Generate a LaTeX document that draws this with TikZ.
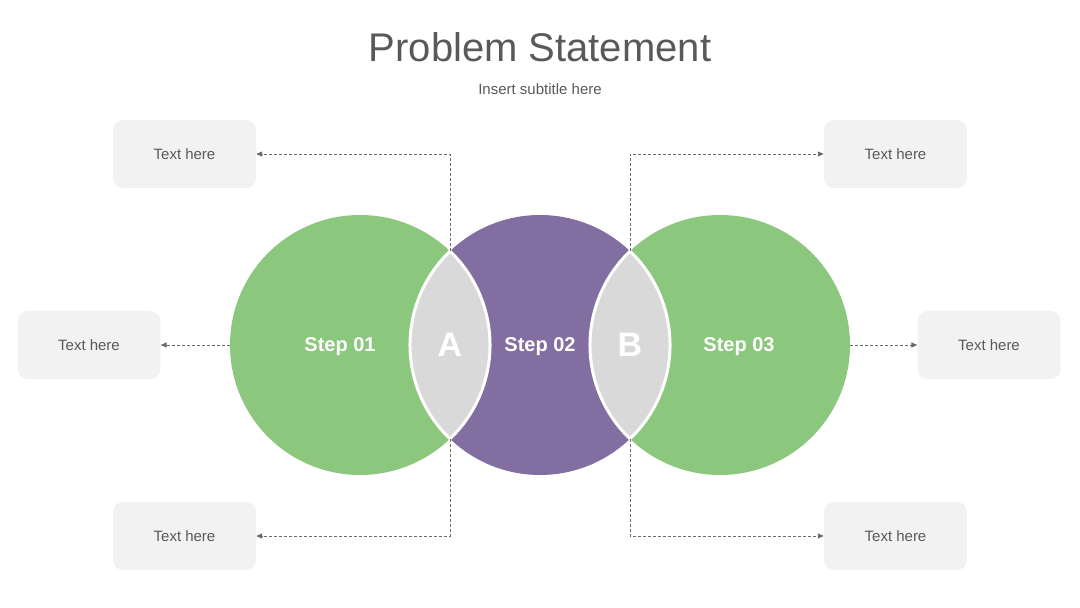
\documentclass[tikz,border=0pt]{standalone}
\usepackage{fontspec}
\setmainfont{Liberation Sans}
\usetikzlibrary{arrows.meta}
\definecolor{cgreen}{HTML}{8CC77E}
\definecolor{cpurple}{HTML}{826EA0}
\definecolor{clens}{HTML}{D9D9D9}
\definecolor{cbox}{HTML}{F2F2F2}
\definecolor{ctext}{HTML}{595959}
\definecolor{cline}{HTML}{6A6A6A}
\tikzset{
  textbox/.style={fill=cbox, rounded corners=10pt, minimum width=143pt, minimum height=68pt, inner sep=0pt, text=ctext, font=\fontsize{15}{18}\selectfont},
  conn/.style={draw=cline, line width=0.9pt, dash pattern=on 3pt off 2pt, -{Triangle[length=6pt,width=5pt]}},
  steplabel/.style={text=white, anchor=base, font=\bfseries\fontsize{20}{24}\selectfont},
  lenslabel/.style={text=white, anchor=base, font=\bfseries\fontsize{34}{40}\selectfont},
  lens/.style={fill=clens, draw=white, line width=3pt}
}
\begin{document}
\begin{tikzpicture}[x=1pt,y=1pt]
\useasboundingbox (0,0) rectangle (1080,608);
% title
\node[text=ctext, font=\fontsize{40}{48}\selectfont] (title) at (540,561) {Problem Statement};
\node[text=ctext, font=\fontsize{15}{18}\selectfont] (subtitle) at (540,519) {Insert subtitle here};
% circles
\fill[cgreen] (360,263) circle (130);
\fill[cgreen] (720,263) circle (130);
\fill[cpurple] (540,263) circle (130);
% lenses
\path[lens] (450,356.8) arc[start angle=46.2, end angle=-46.2, radius=130]
  arc[start angle=226.2, end angle=133.8, radius=130] -- cycle;
\path[lens] (630,356.8) arc[start angle=46.2, end angle=-46.2, radius=130]
  arc[start angle=226.2, end angle=133.8, radius=130] -- cycle;
% labels
\node[steplabel] (s1) at (340,256) {Step 01};
\node[steplabel] (s2) at (540,256) {Step 02};
\node[steplabel] (s3) at (739,256) {Step 03};
\node[lenslabel] (la) at (450,251) {A};
\node[lenslabel] (lb) at (630,251) {B};
% boxes
\node[textbox] (tl) at (184.5,454) {Text here};
\node[textbox] (ml) at (89,263) {Text here};
\node[textbox] (bl) at (184.5,72) {Text here};
\node[textbox] (tr) at (895.5,454) {Text here};
\node[textbox] (mr) at (989,263) {Text here};
\node[textbox] (br) at (895.5,72) {Text here};
% connector anchors
\coordinate (atop) at (450,356.8);
\coordinate (abot) at (450,169.2);
\coordinate (btop) at (630,356.8);
\coordinate (bbot) at (630,169.2);
\coordinate (lc) at (230,263);
\coordinate (rc) at (850,263);
% connectors
\draw[conn] (atop) |- (tl.east);
\draw[conn] (abot) |- (bl.east);
\draw[conn] (btop) |- (tr.west);
\draw[conn] (bbot) |- (br.west);
\draw[conn] (lc) -- (ml.east);
\draw[conn] (rc) -- (mr.west);
\end{tikzpicture}
\end{document}
